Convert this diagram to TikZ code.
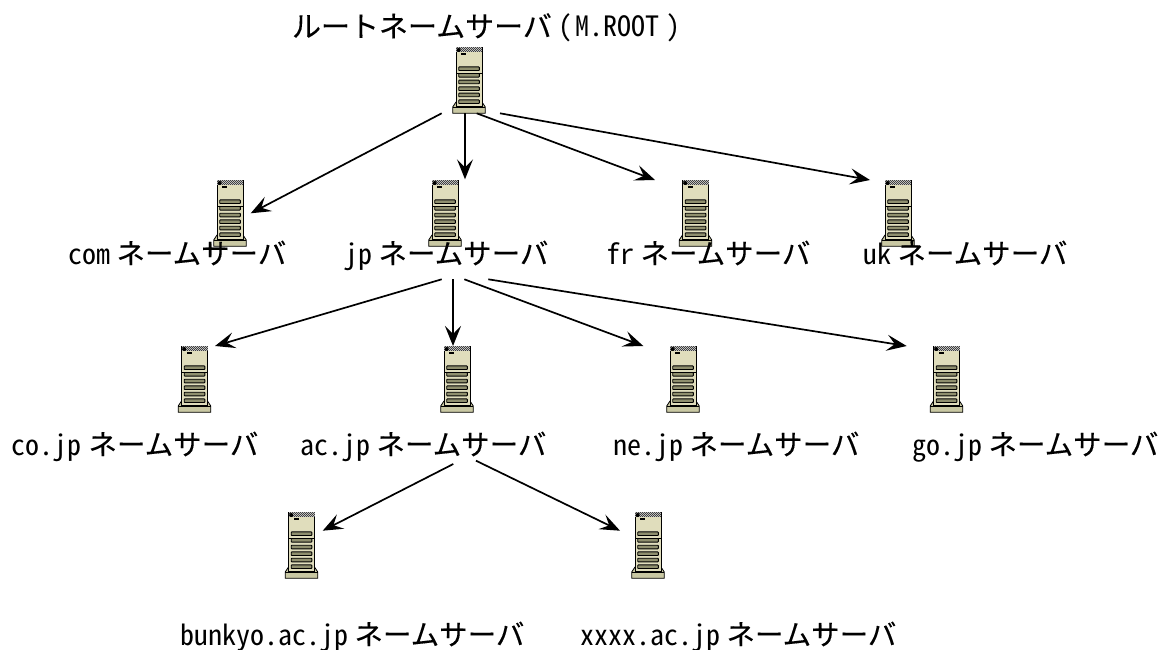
\documentclass[tikz,border=0pt]{standalone}
\usepackage{fontspec}
\usetikzlibrary{arrows.meta}
\newfontfamily\jpf{Noto Sans CJK JP}[FakeBold=0.25]
\newfontfamily\latf{Noto Sans CJK JP}[RawFeature=+hwid]
\newcommand{\kana}{\hspace{-7.5pt}{\jpf\fontsize{28.5}{30}\selectfont ネームサーバ}}
\definecolor{srvbody}{HTML}{E0DDBC}
\definecolor{srvslot}{HTML}{8F8F6E}
\definecolor{srvbase}{HTML}{C9C8A3}
\tikzset{
  x=1pt,y=-1pt,
  srvbox/.style={minimum width=33pt,minimum height=66pt,inner sep=0pt,outer sep=0pt},
  lbl/.style={anchor=base west,inner sep=0pt,outer sep=0pt,font=\fontsize{28}{30}\selectfont\latf,text=black},
  conn/.style={line width=1.7pt,-{Stealth[length=20pt,width=16pt,inset=8pt]}},
  server/.pic={
    % base
    \draw[line width=.8pt,fill=srvbase] (-13,55) -- (-16.3,60) -- (-16.3,66.3) -- (16.3,66.3) -- (16.3,60) -- (13,55) -- cycle;
    \draw[line width=.5pt] (-16.3,60) -- (16.3,60);
    % body
    \draw[line width=.9pt,fill=srvbody] (-13,0) rectangle (13,59.5);
    \fill[black!75] (-13,0) rectangle (13,5);
    \foreach \i in {0,...,25}{\foreach \j in {0,...,4}{
      \pgfmathparse{int(mod(\i+\j,2))}
      \ifnum\pgfmathresult=0 \fill[white!75!black] (-13+\i,\j) rectangle (-12+\i,\j+1);\fi}}
    \fill[black] (-10.3,3) circle (2pt);
    \fill[black] (-8,6) rectangle (-3,8.3);
    \draw[line width=.7pt] (-13,26.4) -- (13,26.4);
    \foreach \s in {21.7,28.3,35,41.7,48,54.7}
      \draw[line width=.9pt,fill=srvslot,rounded corners=.6pt] (-10.3,\s-1.8) rectangle (10.3,\s+1.8);
  }
}
\newcommand{\srv}[3]{\node[srvbox] (#1) at (#2,#3) {}; \pic at (#1.north) {server};}
\begin{document}
\begin{tikzpicture}
\useasboundingbox (0,0) rectangle (1172,650);
\fill[white] (0,0) rectangle (1172,650);
\srv{root}{469}{80}
\srv{com}{230}{213}
\srv{jp}{445}{213}
\srv{fr}{695.5}{213}
\srv{uk}{898}{213}
\srv{co}{194.5}{379}
\srv{ac}{457}{379}
\srv{ne}{683}{379}
\srv{go}{946.5}{379}
\srv{bunkyo}{301.5}{545}
\srv{xxxx}{648}{545}
% labels
\node[lbl] (lroot) at (292,37) {{\jpf\fontsize{29}{30}\selectfont ルートネームサーバ}\hspace{7pt}(\hspace{3pt}M.ROOT\hspace{7pt})};
\node[lbl] (lcom) at (68,264) {com \kana};
\node[lbl] (ljp) at (344,264) {jp \kana};
\node[lbl] (lfr) at (606,264) {fr \kana};
\node[lbl] (luk) at (863,264) {uk \kana};
\node[lbl] (lco) at (12,455) {co.jp \kana};
\node[lbl] (lac) at (300,455) {ac.jp \kana};
\node[lbl] (lne) at (613,455) {ne.jp \kana};
\node[lbl] (lgo) at (912,455) {go.jp \kana};
\node[lbl] (lbu) at (180,645) {bunkyo.ac.jp \kana};
\node[lbl] (lxx) at (580,645) {xxxx.ac.jp \kana};
% connectors
\draw[conn] ([shift={(-27.3,33.3)}]root.center) -- ([shift={(20.7,0.3)}]com.center);
\draw[conn] ([shift={(-4,33.3)}]root.center) -- ([shift={(20,-33.7)}]jp.center);
\draw[conn] ([shift={(7.7,33.3)}]root.center) -- ([shift={(-40.5,-33)}]fr.center);
\draw[conn] ([shift={(31,33.3)}]root.center) -- ([shift={(-28,-33)}]uk.center);
\draw[conn] ([shift={(-3.3,66.3)}]jp.center) -- ([shift={(20.5,-33)}]co.center);
\draw[conn] ([shift={(8,66.3)}]jp.center) -- ([shift={(-4,-33)}]ac.center);
\draw[conn] ([shift={(19.3,66.3)}]jp.center) -- ([shift={(-39.7,-33)}]ne.center);
\draw[conn] ([shift={(43.3,66.3)}]jp.center) -- ([shift={(-39.8,-33)}]go.center);
\draw[conn] ([shift={(-3.7,85)}]ac.center) -- ([shift={(21.2,-14.3)}]bunkyo.center);
\draw[conn] ([shift={(19,81.7)}]ac.center) -- ([shift={(-28,-14.3)}]xxxx.center);
\end{tikzpicture}
\end{document}
